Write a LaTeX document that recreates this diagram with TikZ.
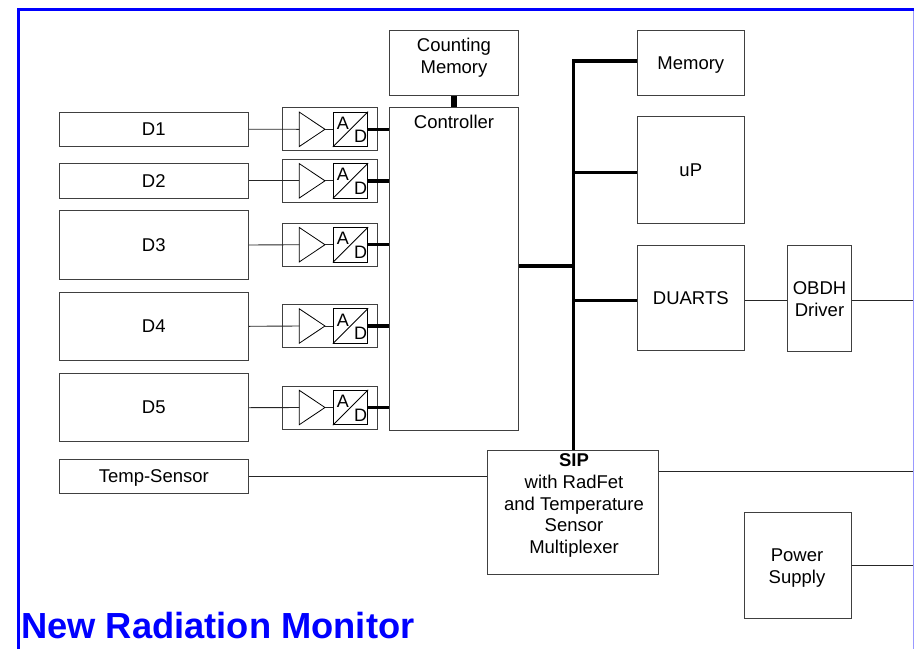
\documentclass[tikz,border=0pt]{standalone}
\usepackage{fontspec}
\setmainfont{Liberation Sans}
\usepackage{xcolor}
\usetikzlibrary{calc}
\usetikzlibrary{positioning}
\tikzset{
	blockbox/.style={draw=black!75,line width=1pt,align=center,font=\fontsize{18.5}{21.7}\selectfont,inner sep=0pt},
	blocktext/.style={align=center,font=\fontsize{18.5}{21.7}\selectfont,inner sep=0pt},
	adgroup/.style={draw=black!75,line width=1pt,minimum width=95,minimum height=43,inner sep=0pt},
	adbox/.style={draw=black,line width=0.8pt,minimum width=34.5,minimum height=34.5,inner sep=0pt},
	adtext/.style={font=\fontsize{18}{18}\selectfont,inner sep=0pt},
	wire/.style={line width=0.9pt,black!85},
	bus/.style={line width=3.4pt},
}
\begin{document}
\begin{tikzpicture}[x=1pt,y=-1pt]
	\useasboundingbox (0,0) rectangle (914,649);
	\draw[blue,line width=3.2pt] (18.5,649)--(18.5,9.7)--(914,9.7);
	\draw[blue!40,line width=0.8pt] (913.5,11)--(913.5,649);
	% detectors
	\node[blockbox,minimum width=189,minimum height=34] (D1) at (153.8,129.2) {D1};
	\node[blockbox,minimum width=189,minimum height=34.5] (D2) at (153.8,180.8) {D2};
	\node[blockbox,minimum width=189,minimum height=68.5] (D3) at (153.8,245) {D3};
	\node[blockbox,minimum width=189,minimum height=68] (D4) at (153.8,326.3) {D4};
	\node[blockbox,minimum width=189,minimum height=68.5] (D5) at (153.8,407.7) {D5};
	\node[blockbox,minimum width=189,minimum height=34,text depth=0pt] (temp) at (153.8,476) {Temp-Sensor};
	% main blocks
	\node[blockbox,minimum width=129,minimum height=323] (ctrl) at (453.5,269.3) {};
	\node[blocktext] (ctrltext) at (454,121.7) {Controller};
	\node[blockbox,minimum width=129,minimum height=64.5] (count) at (453.5,63) {};
	\node[blocktext] (counttext) at (454,58) {Counting\\Memory};
	\node[blockbox,minimum width=107,minimum height=64.5,text depth=0pt] (mem) at (690.8,63) {Memory};
	\node[blockbox,minimum width=107,minimum height=106.5] (up) at (690.8,170.2) {uP};
	\node[blockbox,minimum width=107,minimum height=105.7] (duarts) at (690.8,297.9) {DUARTS};
	\node[blockbox,minimum width=64,minimum height=106.7] (obdh) at (819,298.4) {};
	\node[blocktext] (obdhtext) at (819.5,299.4) {OBDH\\Driver};
	\node[blockbox,minimum width=171.5,minimum height=124] (sip) at (573,512) {};
	\node[blocktext] (siptext) at (574,505.5) {\textbf{SIP}\\with RadFet\\and Temperature\\Sensor\\Multiplexer};
	\node[blockbox,minimum width=107,minimum height=106] (power) at (797.5,565.7) {};
	\node[blocktext] (powertext) at (797,567.7) {Power\\Supply};
	\coordinate (bustop) at (573.3,61);
	\coordinate (busup) at (573.3,172.3);
	\coordinate (busctrl) at (573.3,266);
	\coordinate (busduarts) at (573.3,300.3);
	\coordinate (rtop) at (913,300.3);
	\coordinate (rsip) at (913,471.7);
	\coordinate (rbot) at (913,565.7);
	% converter groups
	\foreach \n/\y in {a/129.3,b/180.8,c/244.7,d/326,e/407.5}{
		\node[adgroup] (grp\n) at (329.8,\y) {};
		\coordinate (amp\n) at (299.3,\y);
		\coordinate (tip\n) at (325,\y);
		\draw[line width=0.8pt] (299.3,\y-17.2)--(tip\n)--(299.3,\y+17.2)--cycle;
		\node[adbox] (ad\n) at (350.5,\y) {};
		\draw[line width=0.8pt] (ad\n.south west)--(ad\n.north east);
		\node[adtext] (a\n) at (343,\y-6) {A};
		\node[adtext] (d\n) at (360.7,\y+7.5) {D};
		\draw[wire] (tip\n)--(ad\n.west);
		\draw[bus] (ad\n.east)--(ad\n.east-|ctrl.west);
	}
	\foreach \n/\m in {1/a,2/b,3/c,4/d,5/e}{
		\draw[wire] (D\n.east)--(amp\m);
	}
	\draw[line width=6pt] (count.south)--(count.south|-ctrl.north);
	\draw[bus] (bustop-|mem.west)--(bustop)--(bustop|-sip.north);
	\draw[bus] (busup)--(busup-|up.west);
	\draw[bus] (busduarts)--(busduarts-|duarts.west);
	\draw[bus] (busctrl)--(busctrl-|ctrl.east);
	\draw[wire] (busduarts-|duarts.east)--(busduarts-|obdh.west);
	\draw[wire] (busduarts-|obdh.east)--(rtop);
	\draw[wire] (temp.east)--(sip.west|-temp.east);
	\draw[wire] (rsip-|sip.east)--(rsip);
	\draw[wire] (power.east)--(rbot);
	\node[blue,font=\fontsize{36.3}{40}\selectfont\bfseries,anchor=base west,inner sep=0pt] (title) at (21,638.3) {New Radiation Monitor};
\end{tikzpicture}
\end{document}
